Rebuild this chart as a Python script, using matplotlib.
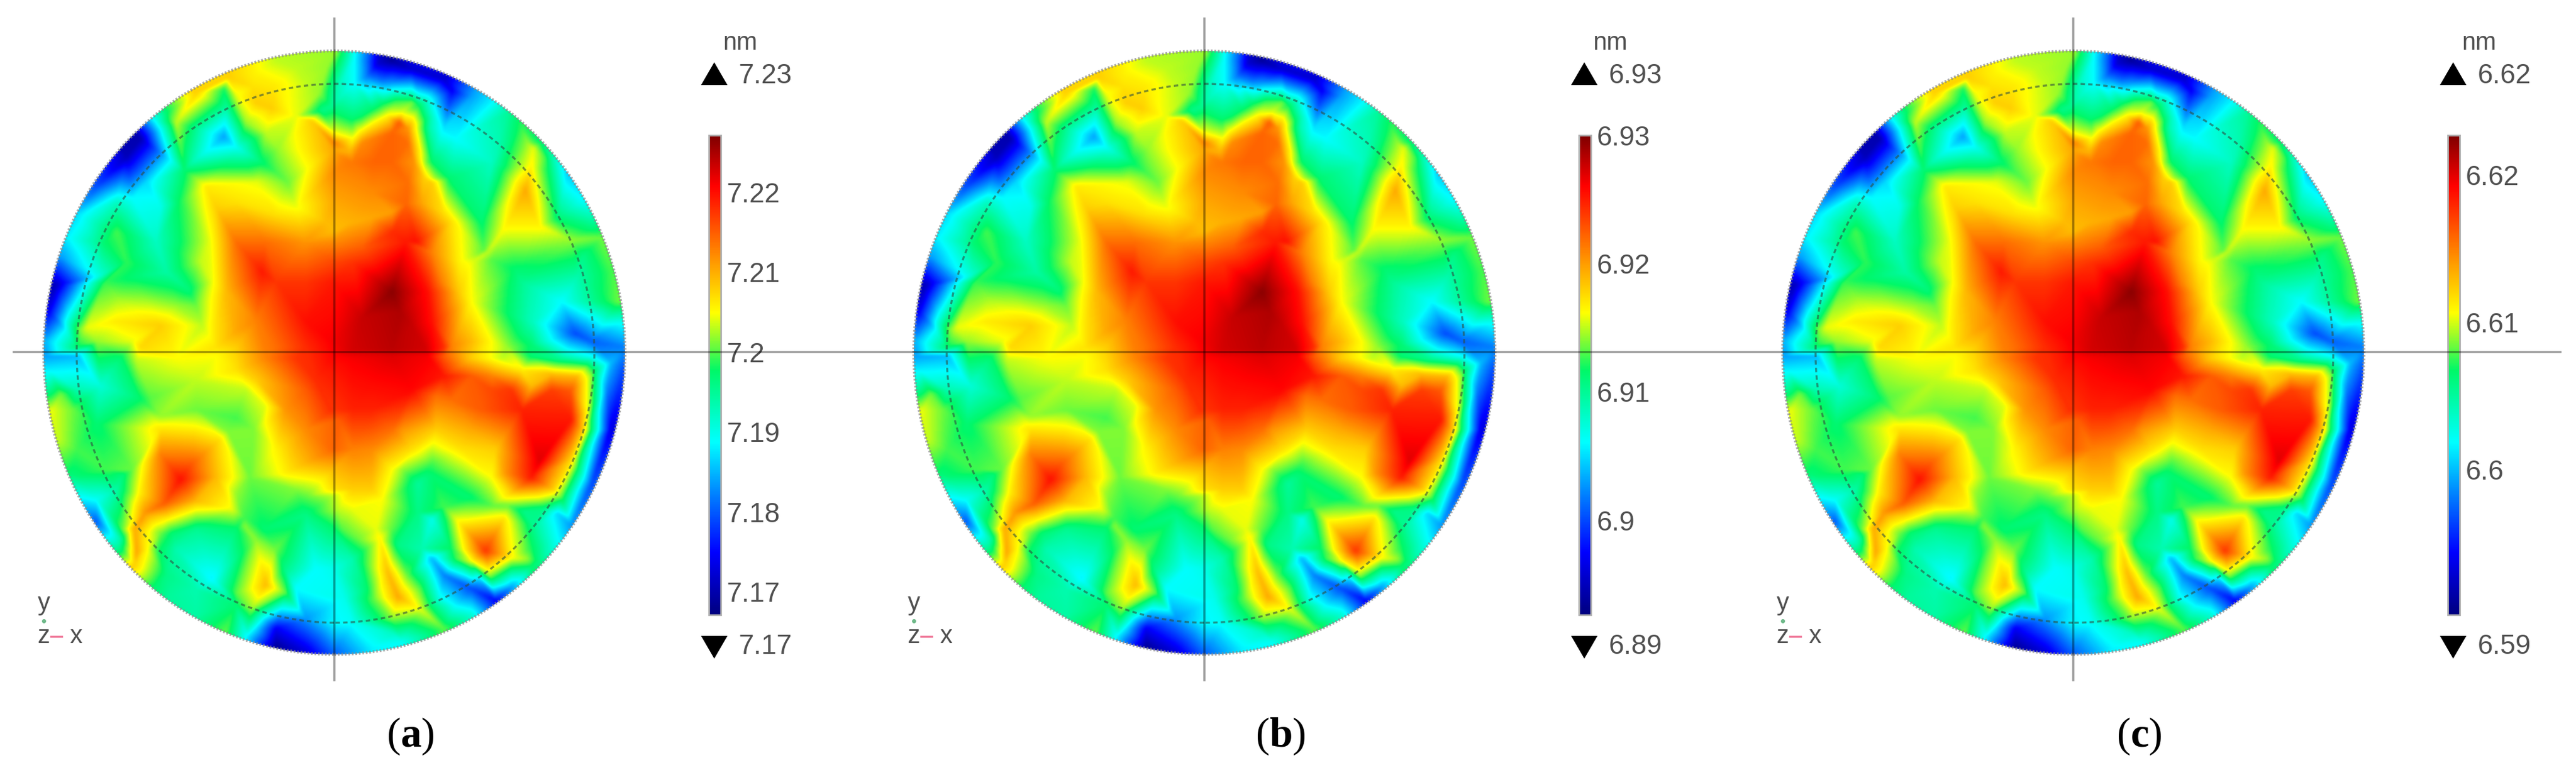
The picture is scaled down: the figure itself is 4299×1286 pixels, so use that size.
import numpy as np
import matplotlib
matplotlib.use("Agg")
import matplotlib.pyplot as plt
from matplotlib.colors import LinearSegmentedColormap, Normalize
from matplotlib.cm import ScalarMappable
from matplotlib.patches import Ellipse
from matplotlib.tri import Triangulation, LinearTriInterpolator

W, H = 4299, 1286
plt.rcParams['font.family'] = ['Liberation Sans', 'DejaVu Sans']
plt.rcParams['mathtext.fontset'] = 'custom'
plt.rcParams['mathtext.rm'] = 'Liberation Serif'
plt.rcParams['mathtext.bf'] = 'Liberation Serif:bold'

panel_labels = ['a', 'b', 'c']
scale_min = [7.1671, 6.8926, 6.5901]
scale_max = [7.2271, 6.9300, 6.6227]
cap_top = ['7.23', '6.93', '6.62']
cap_bottom = ['7.17', '6.89', '6.59']
tick_values = [[7.17, 7.18, 7.19, 7.20, 7.21, 7.22],
               [6.90, 6.91, 6.92, 6.93],
               [6.60, 6.61, 6.62]]
tick_labels = [['7.17', '7.18', '7.19', '7.2', '7.21', '7.22'],
               ['6.9', '6.91', '6.92', '6.93'],
               ['6.6', '6.61', '6.62']]

scale_pos = [0, .13, .25, .36, .51, .63, .895, 1]
scale_col = ['#00007f', '#0000ff', '#0080ff', '#00ffff', '#00f868', '#ffff00', '#ff0000', '#7f0000']

# Surface readings: (x, y, position on the colour scale, 0 = bottom, 1 = top), per quadrant of the disk
upper_left = [
 (1500,50,.58),(1200,90,.60),(960,170,.68),(800,250,.68),(650,350,.5),(600,390,.38),(520,480,.05),(450,570,.06),
 (300,720,.2),(200,860,.33),(150,980,.35),(130,1080,.28),(90,1220,.06),(60,1350,.12),(45,1500,.3),
 (700,400,.6),(940,230,.52),(950,320,.46),(940,470,.28),(1130,600,.5),(1010,530,.38),(780,600,.44),(1200,650,.54),
 (1180,330,.68),(1300,370,.62),(1430,340,.48),(1480,320,.47),(1380,390,.68),(1490,500,.76),(1210,530,.58),(1260,700,.56),
 (1300,820,.62),(1450,900,.7),(1490,1000,.75),(850,720,.65),(1130,1150,.87),(1350,1400,.88),(1490,1100,.82),(1480,1500,.9),
 (740,640,.5),(720,800,.52),(760,1240,.49),(800,1320,.56),(830,1420,.6),(880,1200,.62),(900,1400,.66),
 (1000,1000,.78),(1000,1450,.72),(1100,1400,.76),(900,1530,.66),(620,820,.38),(600,1000,.42),(650,1150,.45),(480,1180,.5),
 (400,950,.54),(340,1200,.53),(330,1000,.5),(450,1100,.53),(300,1000,.46),(320,1170,.4),(400,800,.42),(550,700,.33),(480,780,.36),
 (210,1440,.56),(400,1280,.58),(700,1320,.58),(250,1430,.62),(400,1400,.65),(620,1420,.68),(480,1500,.62),(300,1500,.58),
 (200,1530,.5),(520,1530,.67),(150,1450,.38),(1100,700,.62),(1200,1200,.84),(1350,1200,.84),
 (1000,1530,.68),(1200,1530,.78),(1350,1530,.85),(1200,1430,.8),
 (1100,150,.64),(1300,130,.6),(1080,220,.66),(1200,220,.65),(1100,300,.68),(1050,400,.58),(1150,450,.6),(1000,260,.62),
 (1350,200,.6),(1420,250,.58),(1460,120,.58),(900,830,.68),(1000,800,.66),(1200,860,.66),(1150,1000,.78),(1350,1000,.74),
 (820,1100,.6),(870,1000,.62),(950,1250,.7),
]
upper_right = [
 (5,50,.58),(50,60,.5),(110,80,.36),(170,90,.24),(230,100,.08),(300,90,.03),(400,130,.08),(560,180,.08),(600,240,.12),
 (700,270,.28),(800,290,.35),(880,350,.46),(950,420,.53),(1050,500,.5),(1100,560,.45),(1180,660,.32),(1260,790,.36),
 (1310,920,.48),(1350,980,.56),(1400,1150,.54),(1440,1300,.56),(1460,1400,.38),(1470,1530,.25),
 (40,200,.42),(110,200,.36),(170,170,.25),(250,190,.24),(300,200,.27),(100,380,.5),(5,340,.5),(100,480,.63),(90,540,.7),
 (5,450,.63),(5,540,.72),(320,290,.53),(400,300,.56),(440,310,.5),(350,350,.62),(335,400,.8),(60,580,.76),(200,600,.79),(380,700,.78),
 (490,430,.44),(470,600,.57),(500,590,.5),(590,680,.5),(520,680,.58),(460,680,.68),(620,480,.36),(560,430,.34),(500,370,.42),
 (800,600,.42),(880,600,.52),(750,900,.5),(760,1040,.55),(970,740,.72),(1040,920,.64),(870,920,.64),(910,620,.56),(1000,620,.64),
 (1010,530,.62),(980,500,.58),(1070,580,.54),(1090,640,.5),(1130,880,.5),(1200,990,.58),(780,1050,.6),(800,1090,.55),(920,1140,.5),
 (1260,1070,.48),(1230,1180,.44),(1150,1300,.36),(1220,1460,.2),(1300,1500,.22),(1010,1400,.42),(950,1200,.47),(1000,1520,.5),
 (880,1530,.58),(800,1500,.63),(700,1500,.7),(600,1520,.76),(700,1100,.62),(600,900,.66),(500,700,.68),(450,800,.72),
 (370,810,.79),(5,950,.7),(200,880,.72),(370,1000,.87),(100,1100,.84),(420,1000,.88),(5,1200,.87),(480,1250,.88),(500,1400,.88),
 (300,1250,.99),(340,1350,.96),(150,1380,.94),(400,1420,.94),(100,1540,.93),(300,1540,.95),(470,1540,.93),(560,1530,.85),
 (100,600,.77),(300,450,.79),(300,600,.79),(380,500,.78),(410,600,.74),(380,430,.74),(150,500,.75),(5,650,.75),(5,800,.72),
 (200,750,.75),(300,850,.73),(100,900,.71),(140,450,.65),(210,400,.64),(280,370,.65),(200,330,.5),(250,300,.5),(150,360,.5),
 (300,950,.85),(150,1030,.8),(500,1050,.76),(550,1200,.76),(640,1250,.68),(640,1100,.64),(560,850,.66),(700,1300,.63),
]
lower_left = [
 (45,30,.28),(60,200,.47),(75,300,.62),(110,450,.6),(170,620,.5),(220,740,.36),(300,860,.22),(410,980,.45),(490,1080,.68),
 (600,1180,.5),(660,1240,.46),(800,1330,.45),(950,1410,.55),(1050,1440,.36),(1200,1490,.03),(1350,1510,.1),(1495,1525,.22),
 (60,100,.35),(200,30,.3),(200,200,.44),(320,180,.4),(420,40,.5),(510,240,.5),(300,370,.5),(120,220,.56),(180,300,.56),
 (200,500,.54),(350,600,.54),(200,630,.5),(430,630,.49),(300,750,.37),(400,700,.45),(420,950,.45),
 (570,240,.55),(500,50,.6),(700,40,.63),(900,30,.63),(1000,100,.66),(1150,40,.76),(1300,40,.84),(1480,30,.89),(1480,300,.85),
 (1490,500,.79),(1490,600,.7),(1350,200,.8),(1250,300,.74),(1200,500,.64),(1240,620,.64),(1050,200,.6),(1000,340,.54),(1090,400,.57),
 (1070,640,.56),(1040,840,.54),(620,330,.58),(960,410,.57),(620,400,.66),(920,450,.66),(720,650,.88),(780,570,.8),(620,520,.76),
 (900,640,.7),(480,600,.56),(520,720,.65),(540,820,.74),(640,770,.8),(980,800,.62),(1000,720,.58),(800,760,.7),(650,850,.64),
 (490,900,.72),(500,1020,.72),(430,900,.56),(550,1000,.64),(610,1000,.52),(620,920,.56),(680,920,.5),(800,900,.47),(1000,900,.5),
 (1040,880,.57),(1140,900,.5),(1200,1000,.56),(1100,960,.58),(1150,1180,.7),(1250,1110,.47),(1250,1220,.55),(1080,1300,.58),
 (1000,1220,.55),(1000,1280,.5),(880,1150,.35),(700,1000,.44),(650,1130,.48),(800,1200,.44),
 (1350,830,.48),(1490,900,.45),(1300,700,.57),(1350,740,.55),(1490,730,.6),(1400,1100,.36),(1300,1200,.36),(1350,1350,.27),
 (1100,1400,.34),(1200,1400,.12),(1490,1100,.38),(1490,1350,.35),
 (800,150,.6),(800,300,.56),(1100,150,.68),(1150,280,.62),(1350,400,.75),(1400,150,.85),
]
lower_right = [
 (5,1525,.22),(200,1500,.35),(350,1470,.37),(560,1400,.55),(700,1330,.4),(820,1260,.13),(900,1190,.28),(1040,1060,.48),
 (1120,970,.38),(1200,880,.27),(1300,680,.2),(1400,400,.1),(1460,100,.2),(1460,30,.25),
 (1310,30,.36),(1400,60,.3),(1380,200,.25),(1340,300,.36),(1320,100,.5),(1270,90,.58),(1000,30,.5),(1150,40,.46),(850,40,.6),
 (700,40,.68),(560,30,.8),(480,30,.9),(300,30,.92),(100,40,.9),(700,130,.8),(950,100,.65),(1000,180,.7),(1230,130,.7),(1200,200,.8),
 (950,300,.86),(1200,350,.87),(1040,560,.92),(1000,640,.87),(1110,700,.68),(1150,740,.55),(1260,400,.68),(1290,300,.6),(1300,130,.58),
 (1200,560,.66),(1100,600,.76),(930,740,.64),(880,780,.56),(900,720,.68),(870,620,.74),(820,500,.68),(520,230,.78),(520,400,.68),
 (500,500,.6),(750,300,.8),(700,400,.72),(800,640,.63),(500,570,.54),(500,630,.5),(350,600,.58),(430,670,.46),(690,740,.5),
 (560,790,.54),(800,780,.55),(5,300,.84),(30,350,.8),(200,300,.86),(5,700,.66),(30,800,.6),(5,900,.5),(100,1050,.44),(200,500,.75),
 (200,700,.68),(220,900,.62),(240,950,.64),(290,900,.56),(330,980,.48),(280,1120,.7),(330,1240,.72),(170,1200,.5),(210,1250,.56),
 (300,1350,.57),(440,1300,.62),(440,1200,.55),(500,1290,.5),(450,1000,.44),(500,1050,.3),(430,820,.48),(500,850,.38),(380,1130,.55),
 (560,1130,.25),(700,1200,.2),(620,1280,.35),(540,1250,.38),(60,1250,.38),(100,1370,.37),(300,1420,.42),(5,1370,.36),
 (630,1050,.55),(790,1140,.56),(1000,1090,.5),(980,1050,.58),(880,800,.58),(640,870,.65),(860,850,.66),(770,1010,.84),(700,1060,.63),
 (900,1040,.64),(960,810,.48),(1000,1000,.52),(1010,880,.47),(600,1000,.52),(740,1150,.33),(1060,800,.48),(1130,820,.33),
 (560,130,.87),(800,130,.76),(800,200,.82),(900,200,.84),(1100,200,.83),(1100,120,.7),(200,150,.89),(400,200,.89),(300,400,.78),
 (100,500,.76),(100,300,.86),(5,500,.74),(350,400,.74),(400,500,.66),(300,600,.63),(250,750,.63),(100,700,.68),(100,800,.62),
 (50,900,.55),(130,950,.56),(600,250,.78),(650,500,.66),
]

# Figure layout in reference pixels
CX, CY, RX, RY = 558, 589, 485, 504
shifts = [0, 1452, 2902]
quad_origin = [(60, 70), (555, 70), (60, 585), (555, 585)]


def fx(px):
    return px / W


def fy(py):
    return 1 - py / H


def disk_nodes():
    xs, ys, ls = [], [], []
    for (ox, oy), quad in zip(quad_origin, [upper_left, upper_right, lower_left, lower_right]):
        for x, y, l in quad:
            xs.append(((ox + x / 3) - CX) / RX)
            ys.append((CY - (oy + y / 3)) / RY)
            ls.append(l)
    xs, ys, ls = map(np.array, (xs, ys, ls))
    r = np.hypot(xs, ys)
    edge = r > 0.86
    xs2 = np.r_[xs, xs[edge] / r[edge] * 1.25, [-1.6, 1.6, -1.6, 1.6]]
    ys2 = np.r_[ys, ys[edge] / r[edge] * 1.25, [-1.6, -1.6, 1.6, 1.6]]
    ls2 = np.r_[ls, ls[edge], [.4, .4, .4, .4]]
    return xs2, ys2, ls2


node_x, node_y, node_level = disk_nodes()
tri = Triangulation(node_x, node_y)
gx, gy = np.meshgrid(np.linspace(-1.02, 1.02, 250), np.linspace(-1.02, 1.02, 250))
grid_level = LinearTriInterpolator(tri, node_level)(gx, gy)

cmap = LinearSegmentedColormap.from_list('rainbow_scale', list(zip(scale_pos, scale_col)), N=512)

fig = plt.figure(figsize=(W / 100, H / 100), dpi=100, facecolor='white')
TXT = '#505050'

for i, sh in enumerate(shifts):
    vmin, vmax = scale_min[i], scale_max[i]
    norm = Normalize(vmin, vmax)
    ax = fig.add_axes([fx(CX + sh - RX), fy(CY + RY), 2 * RX / W, 2 * RY / H])
    ax.set_xlim(-1, 1)
    ax.set_ylim(-1, 1)
    ax.axis('off')
    im = ax.imshow(vmin + grid_level * (vmax - vmin), extent=(-1.02, 1.02, -1.02, 1.02), origin='lower',
                   cmap=cmap, norm=norm, interpolation='bicubic', aspect='auto', zorder=1)
    clip = Ellipse((0, 0), 2, 2, transform=ax.transData)
    im.set_clip_path(clip)
    # rim and inner circle
    ax.add_patch(Ellipse((0, 0), 2.0, 2.0, fill=False, ec='#8a8a8a', lw=3.5, ls=(0, (0.6, 0.6)), alpha=.7, zorder=3, clip_on=False))
    ax.add_patch(Ellipse((0.004, -0.002), 2 * 432 / RX, 2 * 450 / RY, fill=False, ec='#2f4f40', lw=2.4, ls=(0, (2.2, 1.6)), alpha=.6, zorder=3))

    # colour bar
    cax = fig.add_axes([fx(1183 + sh), fy(1027), 20 / W, 801 / H])
    cb = fig.colorbar(ScalarMappable(norm=norm, cmap=cmap), cax=cax, ticks=tick_values[i])
    cb.ax.set_yticklabels(tick_labels[i], fontsize=33, color=TXT)
    cb.ax.tick_params(length=0, pad=7)
    cb.outline.set_edgecolor('#b0b0b0')
    cb.outline.set_linewidth(2)

    # extreme markers and unit
    fig.text(fx(1235 + sh), fy(72), 'nm', fontsize=30, color=TXT, ha='center', va='center')
    fig.text(fx(1233 + sh), fy(127), cap_top[i], fontsize=33, color=TXT, ha='left', va='center')
    fig.text(fx(1233 + sh), fy(1080), cap_bottom[i], fontsize=33, color=TXT, ha='left', va='center')

    # axis triad
    fig.text(fx(73 + sh), fy(1008), 'y', fontsize=30, color=TXT, ha='center', va='center')
    fig.text(fx(73 + sh), fy(1063), 'z', fontsize=30, color=TXT, ha='center', va='center')
    fig.text(fx(127 + sh), fy(1063), 'x', fontsize=30, color=TXT, ha='center', va='center')

    # caption
    fig.text(fx([685, 2137, 3570][i]), fy(1230), rf'($\mathbf{{{panel_labels[i]}}}$)', fontsize=50,
             color='black', ha='center', va='center', fontfamily='Liberation Serif')

ov = fig.add_axes([0, 0, 1, 1], facecolor='none')
ov.set_xlim(0, W)
ov.set_ylim(H, 0)
ov.axis('off')
for sh in shifts:
    ov.fill([1170 + sh, 1214 + sh, 1192 + sh], [142, 142, 104], color='black', lw=0)
    ov.fill([1170 + sh, 1214 + sh, 1192 + sh], [1062, 1062, 1100], color='black', lw=0)
    ov.plot([CX + sh, CX + sh], [31, 1136], color='black', lw=2.6, alpha=.38)
    ov.plot([73 + sh], [1037], 'o', ms=4, color='#6fb98a')
    ov.plot([85 + sh, 103 + sh], [1063, 1063], color='#f07a9a', lw=2.5)
ov.plot([23, 4273], [CY - 1, CY - 1], color='black', lw=2.6, alpha=.38)

fig.savefig('out.png', dpi=100, facecolor='white')
